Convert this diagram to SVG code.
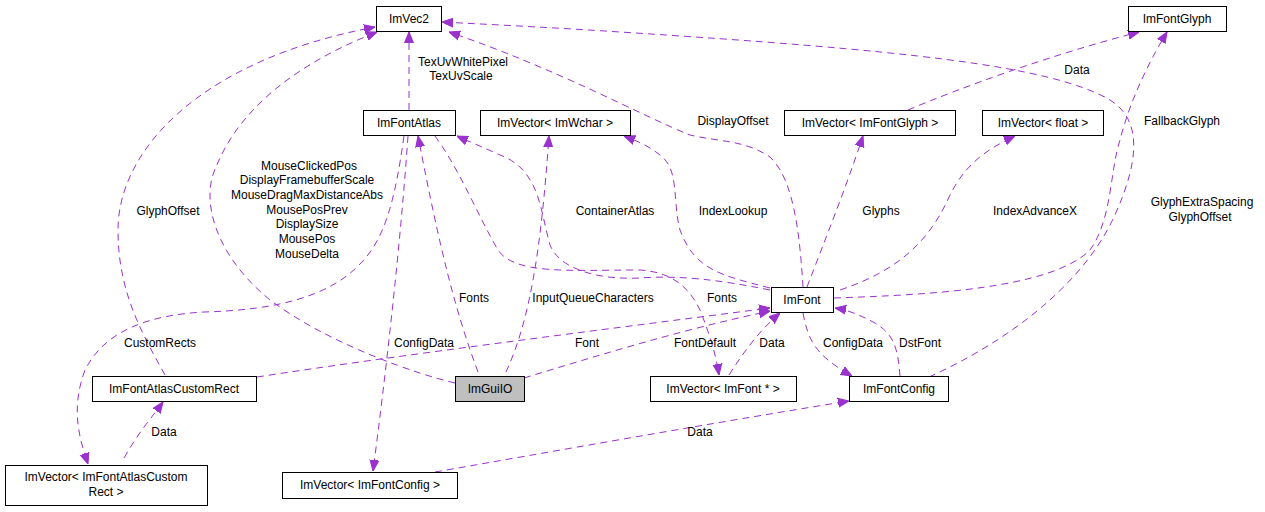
<svg xmlns="http://www.w3.org/2000/svg" width="1265" height="512" viewBox="0 0 1265 512">
<style>
.n rect{fill:#fff;stroke:#000;stroke-width:1}
text{font-family:"Liberation Sans",Arial,sans-serif;font-size:12px;fill:#000}
.n text{text-anchor:middle}
.e path{fill:none;stroke:#9a32cd;stroke-width:1;stroke-dasharray:7,5}
.l text{text-anchor:middle}
</style>
<defs>
<marker id="a" viewBox="0 0 10 10" refX="10" refY="5" markerWidth="11" markerHeight="11" markerUnits="userSpaceOnUse" orient="auto"><path d="M0,1L10,5L0,9z" fill="#9a32cd" stroke="#9a32cd"/></marker>
</defs>
<rect width="1265" height="512" fill="#fff"/>
<g class="e">
<path d="M455,383 C420,375 330,345 270,300 C215,255 200,200 216,167 C235,120 280,70 377,32" marker-end="url(#a)"/>
<path d="M165,375 C140,330 118,290 118,230 C118,150 200,60 375,27" marker-end="url(#a)"/>
<path d="M409,110 L409,32" marker-end="url(#a)"/>
<path d="M803,287 C800,240 795,180 770,157 C745,140 720,142 690,135 C640,115 560,70 449,32" marker-end="url(#a)"/>
<path d="M929,377 C1000,345 1080,290 1114,217 C1140,160 1142,120 1110,100 C1050,65 900,50 620,32 C560,28 500,25 442,22" marker-end="url(#a)"/>
<path d="M478,372 C455,310 440,250 418,136" marker-end="url(#a)"/>
<path d="M770,290 C720,280 680,275 640,278 C600,280 560,270 550,245 C540,210 540,170 500,155 C485,148 470,142 457,136" marker-end="url(#a)"/>
<path d="M435,136 C460,170 480,220 498,250 C515,275 570,270 640,270 C670,272 688,285 700,310 C710,335 716,355 719,375" marker-end="url(#a)"/>
<path d="M506,372 C530,320 541,250 549,136" marker-end="url(#a)"/>
<path d="M770,288 C720,275 695,270 680,230 C672,200 680,170 660,155 C650,147 640,142 624,136" marker-end="url(#a)"/>
<path d="M807,287 C825,240 845,190 863,136" marker-end="url(#a)"/>
<path d="M840,290 C900,270 930,240 950,195 C965,165 985,150 1015,136" marker-end="url(#a)"/>
<path d="M834,298 C920,295 1050,290 1090,250 C1112,220 1110,170 1120,140 C1130,100 1150,60 1167,32" marker-end="url(#a)"/>
<path d="M908,110 C960,88 1050,55 1139,32" marker-end="url(#a)"/>
<path d="M404,136 C395,200 385,240 359,265 C330,295 280,310 204,312 C150,315 105,330 85,370 C70,410 80,440 88,464" marker-end="url(#a)"/>
<path d="M124,458 C140,430 150,420 163,402" marker-end="url(#a)"/>
<path d="M408,136 C400,250 385,380 373,471" marker-end="url(#a)"/>
<path d="M435,472 C550,452 700,425 849,401" marker-end="url(#a)"/>
<path d="M257,377 C400,355 600,330 770,308" marker-end="url(#a)"/>
<path d="M524,378 C600,355 680,330 770,311" marker-end="url(#a)"/>
<path d="M729,375 C745,350 760,330 780,313" marker-end="url(#a)"/>
<path d="M803,313 C808,340 815,355 852,376" marker-end="url(#a)"/>
<path d="M900,376 C898,350 895,335 875,323 C860,315 848,310 835,308" marker-end="url(#a)"/>
</g>
<g class="l">
<text x="309" y="170">MouseClickedPos</text>
<text x="307" y="184">DisplayFramebufferScale</text>
<text x="307" y="199">MouseDragMaxDistanceAbs</text>
<text x="307" y="214">MousePosPrev</text>
<text x="307" y="228">DisplaySize</text>
<text x="307" y="243">MousePos</text>
<text x="307" y="258">MouseDelta</text>
<text x="168" y="215">GlyphOffset</text>
<text x="463" y="66">TexUvWhitePixel</text>
<text x="461" y="80">TexUvScale</text>
<text x="733" y="125">DisplayOffset</text>
<text x="1202" y="206">GlyphExtraSpacing</text>
<text x="1200" y="221">GlyphOffset</text>
<text x="474" y="302">Fonts</text>
<text x="615" y="215">ContainerAtlas</text>
<text x="593" y="302">InputQueueCharacters</text>
<text x="733" y="215">IndexLookup</text>
<text x="881" y="215">Glyphs</text>
<text x="1035" y="215">IndexAdvanceX</text>
<text x="1182" y="125">FallbackGlyph</text>
<text x="1077" y="74">Data</text>
<text x="160" y="347">CustomRects</text>
<text x="164" y="436">Data</text>
<text x="424" y="347">ConfigData</text>
<text x="700" y="436">Data</text>
<text x="587" y="347">Font</text>
<text x="705" y="347">FontDefault</text>
<text x="722" y="302">Fonts</text>
<text x="772" y="347">Data</text>
<text x="853" y="347">ConfigData</text>
<text x="920" y="347">DstFont</text>
</g>
<g class="n" id="ImVec2"><rect x="376.5" y="6.5" width="65" height="25"/><text x="409" y="23">ImVec2</text></g>
<g class="n" id="ImFontAtlas"><rect x="363.5" y="110.5" width="92" height="25"/><text x="409" y="127">ImFontAtlas</text></g>
<g class="n" id="ImVectorImWchar"><rect x="480.5" y="110.5" width="150" height="25"/><text x="555" y="127">ImVector&lt; ImWchar &gt;</text></g>
<g class="n" id="ImVectorImFontGlyph"><rect x="784.5" y="110.5" width="171" height="25"/><text x="870" y="127">ImVector&lt; ImFontGlyph &gt;</text></g>
<g class="n" id="ImVectorFloat"><rect x="982.5" y="110.5" width="121" height="25"/><text x="1043" y="127">ImVector&lt; float &gt;</text></g>
<g class="n" id="ImFontGlyph"><rect x="1128.5" y="6.5" width="98" height="25"/><text x="1177" y="23">ImFontGlyph</text></g>
<g class="n" id="ImFont"><rect x="771.5" y="287.5" width="62" height="25"/><text x="802" y="304">ImFont</text></g>
<g class="n" id="ImFontConfig"><rect x="849.5" y="376.5" width="99" height="25"/><text x="899" y="393">ImFontConfig</text></g>
<g class="n" id="ImVectorImFontPtr"><rect x="650.5" y="376.5" width="146" height="25"/><text x="723" y="393">ImVector&lt; ImFont * &gt;</text></g>
<g class="n" id="ImGuiIO"><rect x="455.5" y="376.5" width="69" height="25" style="fill:#bfbfbf"/><text x="490" y="393">ImGuiIO</text></g>
<g class="n" id="ImFontAtlasCustomRect"><rect x="92.5" y="376.5" width="164" height="25"/><text x="174" y="393">ImFontAtlasCustomRect</text></g>
<g class="n" id="ImVectorCustomRect"><rect x="5.5" y="465.5" width="202" height="40"/><text x="106" y="481">ImVector&lt; ImFontAtlasCustom</text><text x="106" y="496">Rect &gt;</text></g>
<g class="n" id="ImVectorImFontConfig"><rect x="282.5" y="472.5" width="175" height="26"/><text x="370" y="489">ImVector&lt; ImFontConfig &gt;</text></g>
</svg>
